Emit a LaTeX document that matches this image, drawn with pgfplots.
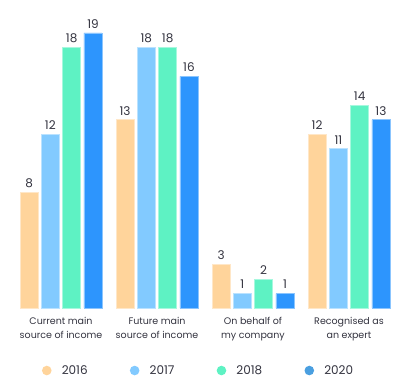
\documentclass[border=0pt]{standalone}
\usepackage{pgfplots}
\pgfplotsset{compat=1.18}
\usepackage{fontspec}
\setmainfont{Poppins}
\definecolor{c16}{HTML}{FFD49B}
\definecolor{c17}{HTML}{82CAFF}
\definecolor{c18}{HTML}{5EF2C3}
\definecolor{c20}{HTML}{2D95FD}
\definecolor{l20}{HTML}{4A9FE0}
\definecolor{txt}{HTML}{33333F}
\begin{document}
\begin{tikzpicture}
\useasboundingbox (-13bp,-78bp) rectangle (390bp,308bp);
\begin{axis}[
  scale only axis, width=384bp, height=308bp,
  xmin=-0.5, xmax=3.5, ymin=0, ymax=21.28,
  ybar=3.3bp, bar width=18bp,
  axis line style={draw=none}, tick style={draw=none},
  ytick=\empty, xtick={0,1,2,3},
  /pgf/number format/assume math mode=true,
  xticklabels={{Current main\\source of income},{Future main\\source of income},{On behalf of\\my company},{Recognised as\\an expert}},
  xticklabel style={align=center, font=\fontsize{9.5bp}{13.5bp}\selectfont, text=txt, yshift=-1.5bp},
  nodes near coords,
  every node near coord/.append style={font=\fontsize{12bp}{13bp}\selectfont, text=txt, yshift=1bp},
  legend columns=4,
  legend style={at={(0.483,-0.203)}, anchor=center, draw=none, fill=none,
    font=\fontsize{12bp}{13bp}\selectfont, text=txt,
    /tikz/every even column/.style={column sep=40bp}},
]
\addplot[fill=c16, draw=c16!55!white, line width=0.7bp,
  legend image code/.code={\fill[c16, draw=none] (0,0) circle (4.8bp); \path[draw=none, fill=none] (-5bp,0) -- (13bp,0);}] coordinates {(0,8) (1,13) (2,3) (3,12)};
\addplot[fill=c17, draw=c17!55!white, line width=0.7bp,
  legend image code/.code={\fill[c17, draw=none] (0,0) circle (4.8bp); \path[draw=none, fill=none] (-5bp,0) -- (13bp,0);}] coordinates {(0,12) (1,18) (2,1) (3,11)};
\addplot[fill=c18, draw=c18!55!white, line width=0.7bp,
  legend image code/.code={\fill[c18, draw=none] (0,0) circle (4.8bp); \path[draw=none, fill=none] (-5bp,0) -- (13bp,0);}] coordinates {(0,18) (1,18) (2,2) (3,14)};
\addplot[fill=c20, draw=c20!55!white, line width=0.7bp,
  legend image code/.code={\fill[l20, draw=none] (0,0) circle (4.8bp); \path[draw=none, fill=none] (-5bp,0) -- (13bp,0);}] coordinates {(0,19) (1,16) (2,1) (3,13)};
\legend{2016,2017,2018,2020}
\end{axis}
\end{tikzpicture}
\end{document}
